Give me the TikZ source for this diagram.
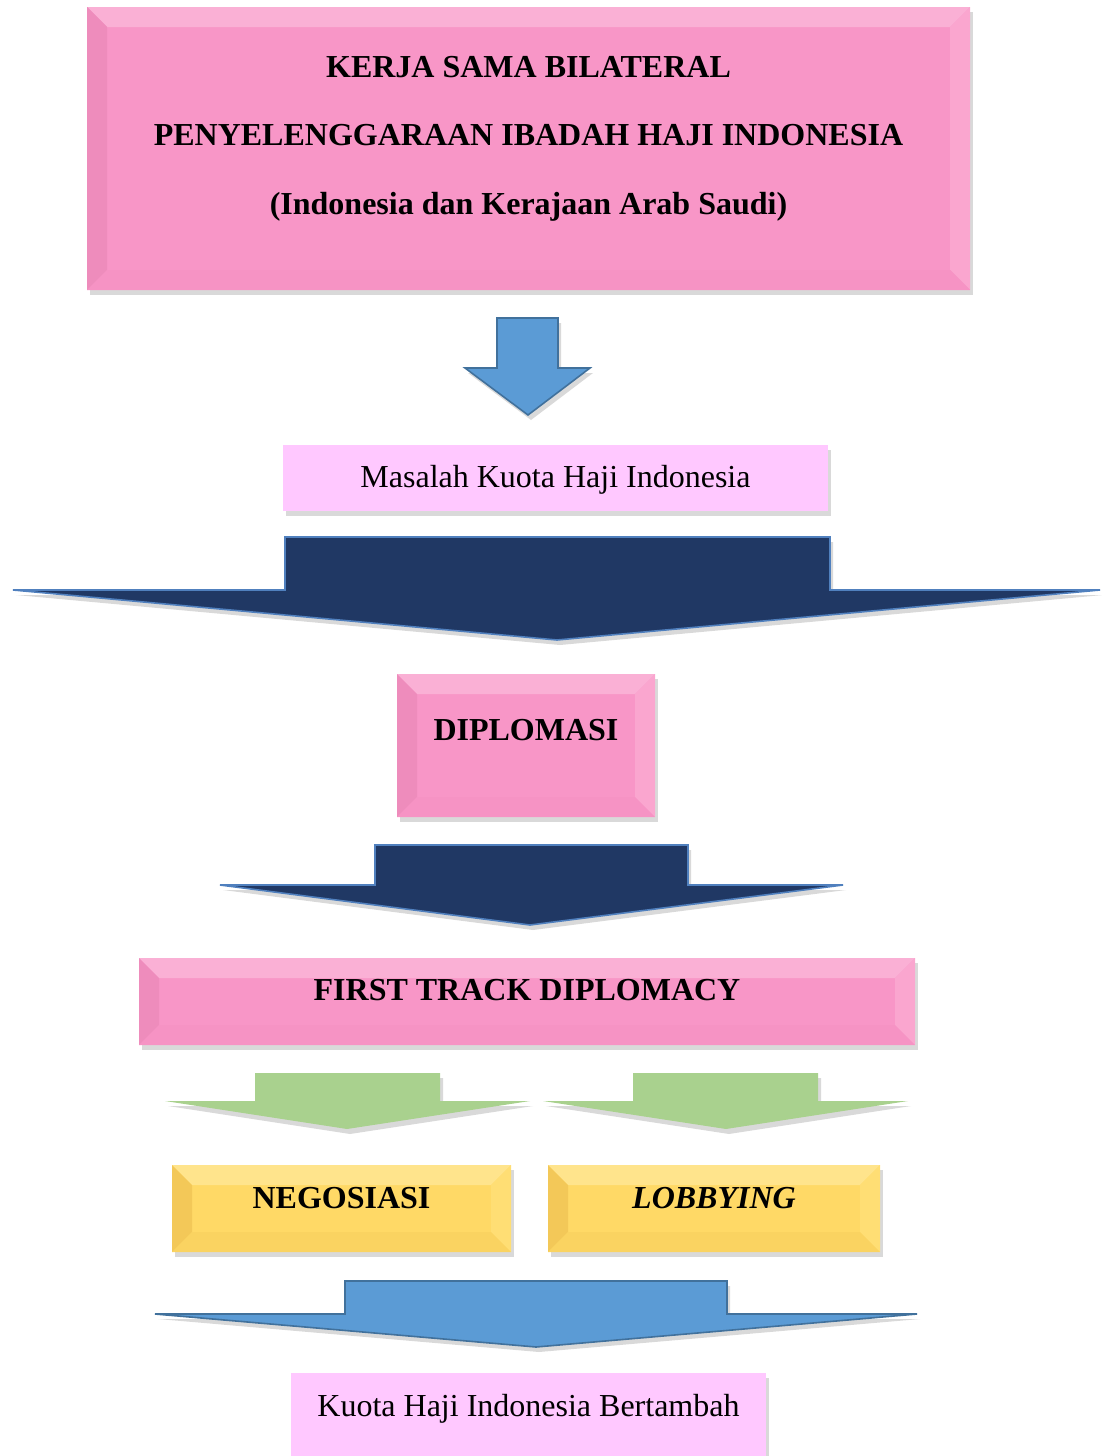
\documentclass[tikz,border=0pt]{standalone}
\usepackage{fontspec}
\setmainfont{Liberation Serif}
\usetikzlibrary{calc,shadows}
\definecolor{pinkmid}{RGB}{248,150,199}
\definecolor{pinktop}{RGB}{250,176,213}
\definecolor{pinkleft}{RGB}{238,140,188}
\definecolor{pinkright}{RGB}{250,166,207}
\definecolor{pinkbottom}{RGB}{246,147,196}
\definecolor{goldmid}{RGB}{255,217,102}
\definecolor{goldtop}{RGB}{255,228,140}
\definecolor{goldleft}{RGB}{243,200,88}
\definecolor{goldright}{RGB}{255,222,116}
\definecolor{goldbottom}{RGB}{250,211,97}
\definecolor{lilac}{RGB}{255,200,255}
\definecolor{navyfill}{RGB}{32,56,100}
\definecolor{navyedge}{RGB}{80,128,190}
\definecolor{skyfill}{RGB}{91,155,213}
\definecolor{skyedge}{RGB}{65,113,156}
\definecolor{leaffill}{RGB}{169,209,142}

\def\bevelsize{10pt}
% four slanted faces inside a box
\newcommand{\bevelfaces}[4]{%
  \path (path picture bounding box.north west) coordinate (bvnw)
        (path picture bounding box.north east) coordinate (bvne)
        (path picture bounding box.south west) coordinate (bvsw)
        (path picture bounding box.south east) coordinate (bvse);
  \fill[#1] (bvnw) -- (bvne) -- ([xshift=-\bevelsize,yshift=-\bevelsize]bvne) -- ([xshift=\bevelsize,yshift=-\bevelsize]bvnw) -- cycle;
  \fill[#2] (bvnw) -- (bvsw) -- ([xshift=\bevelsize,yshift=\bevelsize]bvsw) -- ([xshift=\bevelsize,yshift=-\bevelsize]bvnw) -- cycle;
  \fill[#3] (bvne) -- (bvse) -- ([xshift=-\bevelsize,yshift=\bevelsize]bvse) -- ([xshift=-\bevelsize,yshift=-\bevelsize]bvne) -- cycle;
  \fill[#4] (bvsw) -- (bvse) -- ([xshift=-\bevelsize,yshift=\bevelsize]bvse) -- ([xshift=\bevelsize,yshift=\bevelsize]bvsw) -- cycle;
}

\begin{document}
\begin{tikzpicture}[
    x=0.5pt, y=-0.5pt,
    boxshadow/.style={drop shadow={shadow xshift=1.5pt, shadow yshift=-2.5pt, fill=black, opacity=0.15}},
    pinkbox/.style={rectangle, inner sep=0pt, fill=pinkmid, boxshadow, path picture={\bevelfaces{pinktop}{pinkleft}{pinkright}{pinkbottom}}},
    goldbox/.style={rectangle, inner sep=0pt, fill=goldmid, boxshadow, path picture={\bevelfaces{goldtop}{goldleft}{goldright}{goldbottom}}},
    lilacbox/.style={rectangle, inner sep=0pt, fill=lilac, boxshadow},
    boxtext/.style={anchor=base, inner sep=0pt, font=\fontsize{16}{19}\selectfont\bfseries},
    plaintext/.style={anchor=base, inner sep=0pt, font=\fontsize{16}{19}\selectfont},
    navyarrow/.style={fill=navyfill, draw=navyedge, line width=0.8pt, line join=miter, boxshadow},
    skyarrow/.style={fill=skyfill, draw=skyedge, line width=0.8pt, line join=miter, boxshadow},
    leafarrow/.style={fill=leaffill, boxshadow}
]
\useasboundingbox (0,0) rectangle (1102,1456);

% Top box
\node[pinkbox, minimum width=441.5pt, minimum height=141.5pt] (bilateral) at (528.5,148.5) {};
\node[boxtext] (bilateral1) at ($(bilateral.north)+(0,71)$) {KERJA SAMA BILATERAL};
\node[boxtext] (bilateral2) at ($(bilateral.north)+(0,139)$) {PENYELENGGARAAN IBADAH HAJI INDONESIA};
\node[boxtext] (bilateral3) at ($(bilateral.north)+(0,208)$) {(Indonesia dan Kerajaan Arab Saudi)};

% Small blue arrow
\filldraw[skyarrow] (497,318) -- (558,318) -- (558,368) -- (590,368) -- (528,415) -- (465,368) -- (497,368) -- cycle;

% Quota problem
\node[lilacbox, minimum width=272.5pt, minimum height=33pt] (masalah) at (555.5,478) {};
\node[plaintext] (masalahtext) at ($(masalah.north)+(0,43)$) {Masalah Kuota Haji Indonesia};

% Wide navy arrow
\filldraw[navyarrow] (285,537) -- (830,537) -- (830,590) -- (1100,590) -- (557,640) -- (13,590) -- (285,590) -- cycle;

% Diplomacy
\node[pinkbox, minimum width=129pt, minimum height=71.5pt] (diplomasi) at (526,745.5) {};
\node[boxtext] (diplomasitext) at ($(diplomasi.north)+(0,67)$) {DIPLOMASI};

% Second navy arrow
\filldraw[navyarrow] (375,845) -- (688,845) -- (688,885) -- (843,885) -- (530,925) -- (220,885) -- (375,885) -- cycle;

% First track
\node[pinkbox, minimum width=388pt, minimum height=43.5pt] (firsttrack) at (527,1001.5) {};
\node[boxtext] (firsttracktext) at ($(firsttrack.north)+(0,43)$) {FIRST TRACK DIPLOMACY};

% Green arrows
\fill[leafarrow] (255,1073) -- (440,1073) -- (440,1101) -- (530,1101) -- (347,1129) -- (165,1101) -- (255,1101) -- cycle;
\fill[leafarrow] (633,1073) -- (818,1073) -- (818,1101) -- (908,1101) -- (726,1129) -- (543,1101) -- (633,1101) -- cycle;

% Negotiation and lobbying
\node[goldbox, minimum width=169.5pt, minimum height=43.5pt] (negosiasi) at (341.5,1208.5) {};
\node[boxtext] (negosiasitext) at ($(negosiasi.north)+(0,44)$) {NEGOSIASI};
\node[goldbox, minimum width=166pt, minimum height=43.5pt] (lobbying) at (714,1208.5) {};
\node[boxtext] (lobbyingtext) at ($(lobbying.north)+(0,44)$) {\itshape LOBBYING};

% Bottom blue arrow
\filldraw[skyarrow] (345,1281) -- (727,1281) -- (727,1314) -- (917,1314) -- (536,1347) -- (155,1314) -- (345,1314) -- cycle;

% Result
\node[lilacbox, minimum width=237.5pt, minimum height=44.5pt] (bertambah) at (528.5,1417.5) {};
\node[plaintext] (bertambahtext) at ($(bertambah.north)+(0,44)$) {Kuota Haji Indonesia Bertambah};

\end{tikzpicture}
\end{document}
